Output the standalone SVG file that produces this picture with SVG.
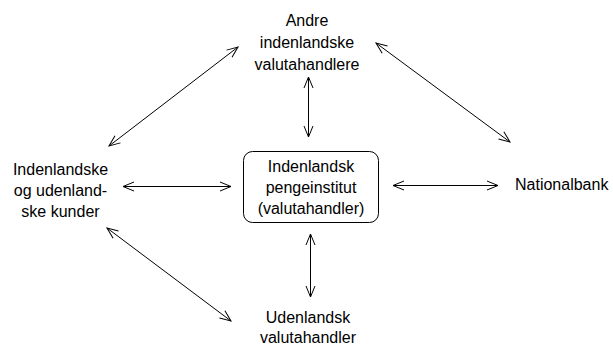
<svg xmlns="http://www.w3.org/2000/svg" width="613" height="346" viewBox="0 0 613 346">
<defs>
<marker id="ah" viewBox="-12 -6 13 12" refX="0" refY="0" markerWidth="13" markerHeight="12" markerUnits="userSpaceOnUse" orient="auto-start-reverse">
<path d="M-11,-4.5 L0,0 L-11,4.5" fill="none" stroke="#000" stroke-width="1"/>
</marker>
</defs>
<style>
text{font-family:"Liberation Sans",Arial,sans-serif;font-size:16px;fill:#000;text-anchor:middle}
.c{stroke:#000;stroke-width:1;fill:none;marker-start:url(#ah);marker-end:url(#ah)}
</style>
<rect width="613" height="346" fill="#fff"/>
<g id="center">
<rect x="243.5" y="151.5" width="135" height="71" rx="9" fill="#fff" stroke="#000" stroke-width="1"/>
<text x="311" y="172">Indenlandsk</text>
<text x="311" y="193">pengeinstitut</text>
<text x="311" y="214">(valutahandler)</text>
</g>
<g id="top">
<text x="307" y="26">Andre</text>
<text x="307" y="48">indenlandske</text>
<text x="307" y="70">valutahandlere</text>
</g>
<g id="left">
<text x="60.5" y="175">Indenlandske</text>
<text x="60.5" y="196">og udenland-</text>
<text x="60.5" y="217">ske kunder</text>
</g>
<g id="right">
<text x="515" y="190" style="text-anchor:start">Nationalbank</text>
</g>
<g id="bottom">
<text x="308" y="323">Udenlandsk</text>
<text x="308" y="343">valutahandler</text>
</g>
<g id="connectors">
<line class="c" x1="109" y1="146" x2="238" y2="47"/>
<line class="c" x1="308.5" y1="77" x2="308.5" y2="137"/>
<line class="c" x1="376" y1="43" x2="510" y2="142"/>
<line class="c" x1="393" y1="185.5" x2="498" y2="185.5"/>
<line class="c" x1="123" y1="186.5" x2="231" y2="186.5"/>
<line class="c" x1="310.5" y1="234" x2="310.5" y2="297"/>
<line class="c" x1="107" y1="228" x2="231" y2="321"/>
</g>
</svg>
